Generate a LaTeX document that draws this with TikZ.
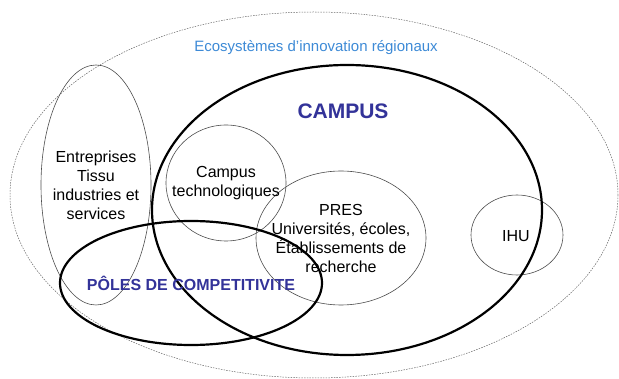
\documentclass[tikz,border=0pt]{standalone}
\usepackage{fontspec}
\setmainfont{Liberation Sans}
\usepackage{xcolor}
\definecolor{ecoblue}{HTML}{3D8AD6}
\definecolor{campusblue}{HTML}{333399}

\begin{document}
\begin{tikzpicture}[x = 1pt, y = -1pt,
	thin ring/.style = {draw = black!70, line width = 0.6pt},
	thick ring/.style = {draw = black, line width = 2.2pt},
	label text/.style = {align = center, font = \fontsize{16}{19}\selectfont}]
	\useasboundingbox (0, 0) rectangle (619, 379);
	% outer ecosystem
	\draw[black!60, line width = 0.5pt, dash pattern = on 1.5pt off 1.2pt] (314, 195) ellipse (304 and 183);
	\node[text = ecoblue, font = \fontsize{15}{18}\selectfont] (eco) at (316, 48) {Ecosystèmes d'innovation régionaux};
	% sets
	\draw[thin ring] (96, 185) ellipse (55 and 120);
	\draw[thin ring] (226, 183) ellipse (60 and 58);
	\draw[thin ring] (341, 238) ellipse (85 and 67);
	\draw[thin ring] (517, 235) ellipse (46 and 40);
	\draw[thick ring] (347, 210) ellipse (195 and 145);
	\draw[thick ring] (191, 283) ellipse (131 and 62);
	% labels
	\node[text = campusblue, font = \fontsize{21}{25}\selectfont\bfseries] (campus) at (343, 111) {CAMPUS};
	\node[label text] (entreprises) at (96, 185.5) {Entreprises\\Tissu\\industries et\\services};
	\node[label text] (tech) at (226, 183.5) {Campus\\technologiques};
	\node[label text] (pres) at (341, 238.5) {PRES\\Universités, écoles,\\Établissements de\\recherche};
	\node[label text] (ihu) at (516, 236) {IHU};
	\node[text = campusblue, font = \fontsize{16}{19}\selectfont\bfseries] (poles) at (191, 283) {PÔLES DE COMPETITIVITE};
\end{tikzpicture}
\end{document}
